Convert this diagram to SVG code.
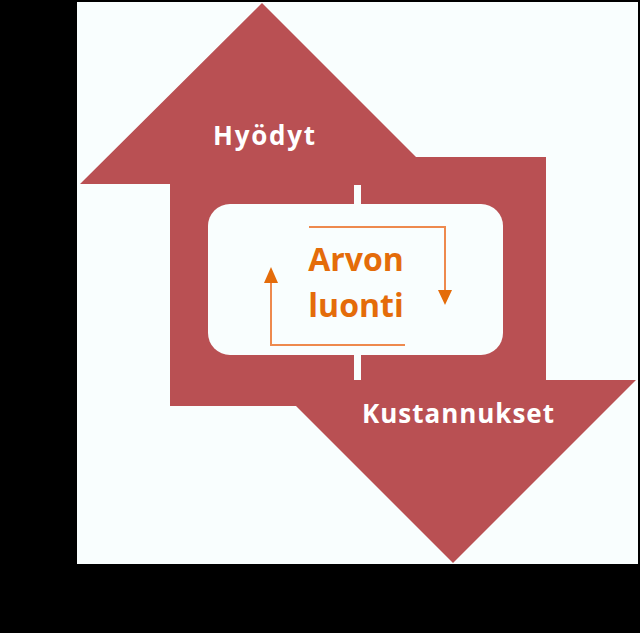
<svg xmlns="http://www.w3.org/2000/svg" width="640" height="633" viewBox="0 0 640 633">
  <defs>
    <style>
      .band { fill: #B95053; }
      .lbl { font-family: "Open Sans", "Liberation Sans", Arial, sans-serif; font-weight: bold; fill: #FFFFFF; font-size: 26px; }
      .core { font-family: "Open Sans", "Liberation Sans", Arial, sans-serif; font-weight: bold; fill: #E46C0A; font-size: 32px; text-anchor: middle; }
      .flow { fill: none; stroke: #EE8A4E; stroke-width: 2; }
    </style>
  </defs>
  <rect x="0" y="0" width="640" height="633" fill="#000000"/>
  <rect x="77" y="2" width="561" height="562" fill="#F9FEFE"/>

  <g id="value-cycle-arrows">
    <polygon class="band" points="262,3 416,157 546,157 546,380 636,380 453,563 296,406 170,406 170,184 80,184"/>
  </g>

  <g id="ticks">
    <rect x="354" y="185" width="7" height="22" fill="#F9FEFE"/>
    <rect x="354" y="352" width="7" height="28" fill="#F9FEFE"/>
  </g>

  <g id="arvon-luonti">
    <rect x="208" y="204" width="295" height="151" rx="22" ry="22" fill="#F9FEFE"/>
    <text class="core" x="356" y="271">Arvon</text>
    <text class="core" x="356" y="317">luonti</text>
  </g>

  <g id="connectors">
    <path class="flow" d="M309,227 H445 V290" />
    <path d="M438,290 L452,290 L445,305 Z" fill="#E46C0A"/>
    <path class="flow" d="M405,345 H271 V283" />
    <path d="M264,283 L278,283 L271,267 Z" fill="#E46C0A"/>
  </g>

  <g id="hyodyt">
    <text class="lbl" x="213" y="145" textLength="102" lengthAdjust="spacing">Hyödyt</text>
  </g>
  <g id="kustannukset">
    <text class="lbl" x="362" y="423" textLength="192" lengthAdjust="spacing">Kustannukset</text>
  </g>
</svg>
